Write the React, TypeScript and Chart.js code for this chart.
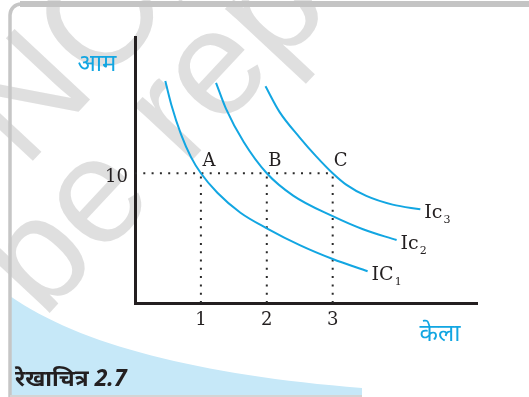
import React, { useEffect, useRef } from "react";
import { Chart, registerables } from "chart.js";

Chart.register(...registerables);

// ---- data ----
const xTicks = [1, 2, 3];
const yTicks = [10];
const xMax = 5.19;
const yMax = 20.5;

const ic1X = [0.46, 0.55, 0.7, 0.85, 1.0, 1.25, 1.6, 2.0, 2.5, 3.0, 3.53];
const ic1Y = [17.1, 15.3, 12.97, 11.24, 10.0, 8.5, 6.96, 5.76, 4.46, 3.39, 2.45];
const ic2X = [1.23, 1.38, 1.65, 2.0, 2.4, 3.0, 3.46, 3.97];
const ic2Y = [16.97, 14.98, 12.41, 10.0, 8.28, 6.69, 5.68, 4.85];
const ic3X = [1.98, 2.19, 2.5, 2.75, 3.0, 3.21, 3.51, 3.91, 4.33];
const ic3Y = [16.7, 14.75, 12.75, 11.3, 10.0, 9.1, 8.25, 7.58, 7.22];

const pointNames = ["A", "B", "C"];
const pointX = [1, 2, 3];
const pointY = [10, 10, 10];

const curveNames = ["IC", "Ic", "Ic"];
const curveSubs = ["1", "2", "3"];

const yTitle = "आम";
const xTitle = "केला";
const caption = "रेखाचित्र 2.7";

const BLUE = "#12a6e2";
const INK = "#231f20";
const SERIF = "'DejaVu Serif', serif";
const DEVA = "'Noto Sans', 'Noto Sans Devanagari', 'Lohit Devanagari', 'FreeSans', sans-serif";

const toPts = (xs: number[], ys: number[]) => xs.map((x, i) => ({ x, y: ys[i] }));

const backgroundPlugin = {
  id: "pageBackground",
  beforeDraw(chart: any) {
    const ctx = chart.ctx as CanvasRenderingContext2D;
    const W = chart.width;
    const H = chart.height;
    ctx.save();
    ctx.fillStyle = "#ffffff";
    ctx.fillRect(0, 0, W, H);

    // light blue swoosh at lower-left
    ctx.fillStyle = "#c6e8f8";
    ctx.beginPath();
    ctx.moveTo(10, 296);
    ctx.bezierCurveTo(80, 345, 200, 375, 362, 388);
    ctx.lineTo(362, H);
    ctx.lineTo(10, H);
    ctx.closePath();
    ctx.fill();

    // watermark
    ctx.fillStyle = "rgba(196,196,196,0.55)";
    ctx.font = "150px 'Liberation Sans', Arial, sans-serif";
    ctx.textBaseline = "alphabetic";
    ctx.textAlign = "left";
    const ang = (-47 * Math.PI) / 180;
    ctx.save();
    ctx.translate(43, 320);
    ctx.rotate(ang);
    ctx.fillText("not to be republished", -ctx.measureText("not to ").width, 0);
    ctx.restore();
    ctx.save();
    ctx.translate(-13, 210);
    ctx.rotate(ang);
    ctx.fillText("© NCERT", 55 - ctx.measureText("© ").width, 0);
    ctx.restore();

    // card border
    ctx.strokeStyle = "#c6c6c6";
    ctx.lineWidth = 3.5;
    ctx.beginPath();
    ctx.moveTo(10, H);
    ctx.lineTo(10, 15);
    ctx.arcTo(10, 4, 22, 4, 11);
    ctx.lineTo(W + 5, 4);
    ctx.stroke();
    ctx.fillStyle = "#c4c4c4";
    ctx.fillRect(20, 1, W, 6);
    ctx.fillStyle = "#d4d4d4";
    ctx.fillRect(10, 395, 352, 2);
    ctx.restore();
  },
};

const labelPlugin = {
  id: "labels",
  afterDatasetsDraw(chart: any) {
    const ctx = chart.ctx as CanvasRenderingContext2D;
    const xs = chart.scales.x;
    const ys = chart.scales.y;
    const area = chart.chartArea;
    ctx.save();
    ctx.fillStyle = INK;
    ctx.font = `18px ${SERIF}`;
    ctx.textAlign = "center";
    ctx.textBaseline = "middle";
    pointNames.forEach((n, i) => {
      ctx.fillText(n, xs.getPixelForValue(pointX[i]) + 8, ys.getPixelForValue(pointY[i]) - 12);
    });

    const ends = [
      [ic1X[ic1X.length - 1], ic1Y[ic1Y.length - 1]],
      [ic2X[ic2X.length - 1], ic2Y[ic2Y.length - 1]],
      [ic3X[ic3X.length - 1], ic3Y[ic3Y.length - 1]],
    ];
    ctx.textAlign = "left";
    curveNames.forEach((n, i) => {
      const px = xs.getPixelForValue(ends[i][0]) + 4;
      const py = ys.getPixelForValue(ends[i][1]) + 4;
      ctx.font = `19px ${SERIF}`;
      ctx.textBaseline = "middle";
      ctx.fillText(n, px, py);
      const w = ctx.measureText(n).width;
      ctx.font = `11px ${SERIF}`;
      ctx.fillText(curveSubs[i], px + w + 1, py + 7);
    });

    // axis titles
    ctx.fillStyle = BLUE;
    ctx.font = `24px ${DEVA}`;
    ctx.textAlign = "center";
    ctx.textBaseline = "middle";
    ctx.fillText(yTitle, area.left - 38, area.top + 27);
    ctx.fillText(xTitle, area.right - 37, area.bottom + 31);

    // caption
    ctx.fillStyle = INK;
    ctx.font = `italic bold 23px ${DEVA}`;
    ctx.textAlign = "left";
    ctx.fillText(caption, 15, 379);
    ctx.restore();
  },
};

export default function App() {
  const ref = useRef<HTMLCanvasElement | null>(null);

  useEffect(() => {
    if (!ref.current) return;
    const curve = (label: string, xs: number[], ys: number[]) => ({
      label,
      data: toPts(xs, ys),
      showLine: true,
      borderColor: BLUE,
      borderWidth: 2,
      pointRadius: 0,
      cubicInterpolationMode: "monotone" as const,
      fill: false,
      order: 1,
    });
    const guide = (data: { x: number; y: number }[]) => ({
      label: "guide",
      data,
      showLine: true,
      borderColor: "#2a2a2a",
      borderWidth: 2,
      borderDash: [2, 6.3],
      pointRadius: 0,
      fill: false,
      order: 2,
    });
    const guides = [
      guide([
        { x: 0, y: pointY[0] },
        { x: pointX[pointX.length - 1], y: pointY[pointY.length - 1] },
      ]),
      ...pointX.map((x, i) => guide([{ x, y: 0 }, { x, y: pointY[i] }])),
    ];

    const chart = new Chart(ref.current, {
      type: "scatter",
      data: {
        datasets: [
          ...guides,
          curve("IC1", ic1X, ic1Y),
          curve("IC2", ic2X, ic2Y),
          curve("IC3", ic3X, ic3Y),
        ] as any,
      },
      options: {
        responsive: false,
        animation: false,
        layout: { padding: { left: 0, top: 37, right: 52, bottom: 0 } },
        plugins: { legend: { display: false }, tooltip: { enabled: false } },
        scales: {
          x: {
            type: "linear",
            min: 0,
            max: xMax,
            afterFit: (s: any) => {
              s.height = 94;
            },
            afterBuildTicks: (s: any) => {
              s.ticks = xTicks.map((v) => ({ value: v }));
            },
            ticks: {
              font: { family: SERIF, size: 18 },
              color: INK,
              padding: 7,
              callback: (v: any) => String(v),
            },
            grid: { display: true, drawOnChartArea: false, drawTicks: false, color: "rgba(0,0,0,0)" },
            border: { display: true, color: INK, width: 3 },
          },
          y: {
            type: "linear",
            min: 0,
            max: yMax,
            afterFit: (s: any) => {
              s.width = 135;
            },
            afterBuildTicks: (s: any) => {
              s.ticks = yTicks.map((v) => ({ value: v }));
            },
            ticks: {
              font: { family: SERIF, size: 18 },
              color: INK,
              padding: 7,
              labelOffset: 4,
              callback: (v: any) => String(v),
            },
            grid: { display: true, drawOnChartArea: false, drawTicks: false, color: "rgba(0,0,0,0)" },
            border: { display: true, color: INK, width: 3 },
          },
        },
      },
      plugins: [backgroundPlugin, labelPlugin],
    });
    return () => chart.destroy();
  }, []);

  return (
    <div style={{ position: "absolute", left: 0, top: 0, width: 529, height: 397 }}>
      <canvas ref={ref} width={529} height={397} style={{ display: "block" }} />
    </div>
  );
}
